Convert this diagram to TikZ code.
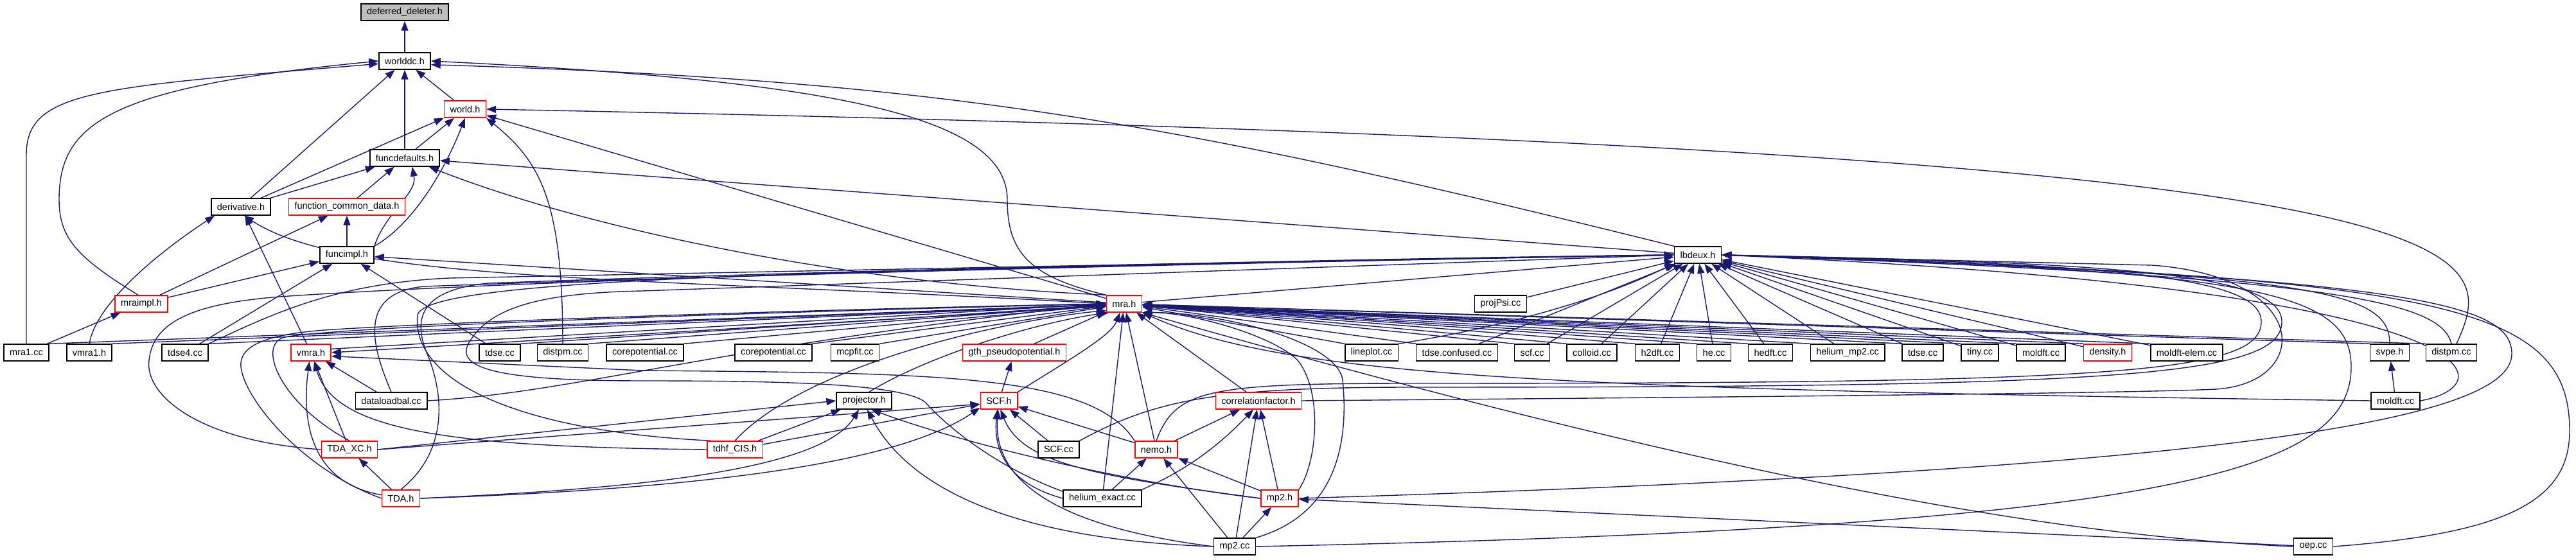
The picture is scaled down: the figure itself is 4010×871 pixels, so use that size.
\documentclass[tikz,border=0pt]{standalone}
\usepackage{fontspec}
\setmainfont{Liberation Sans}
\usetikzlibrary{arrows.meta,backgrounds}
\definecolor{edgeblue}{HTML}{191970}
\definecolor{boxred}{HTML}{FF0000}
\definecolor{rootgray}{HTML}{BFBFBF}
\tikzset{
  hfile/.style={draw=black, line width=1.5pt, fill=white, minimum height=26pt,
    inner xsep=9pt, inner ysep=0pt, font=\fontsize{14.5}{17}\selectfont},
  hred/.style={hfile, draw=boxred},
  hroot/.style={hfile, fill=rootgray},
  inc/.style={draw=edgeblue, line width=1.4pt, -{Triangle[length=15pt,width=11pt]}}
}

\begin{document}
\begin{tikzpicture}[x=1pt,y=1pt]
\useasboundingbox (0,0) rectangle (4010,871);

%% ===================== nodes, rank by rank =====================
\node[hroot] (dd)       at (630,852)  {deferred\_deleter.h};
\node[hfile] (worlddc)  at (630,776)  {worlddc.h};
\node[hred]  (world)    at (724,701)  {world.h};
\node[hfile] (funcdef)  at (630,625)  {funcdefaults.h};
\node[hfile] (deriv)    at (375,549)  {derivative.h};
\node[hred]  (fcd)      at (540,549)  {function\_common\_data.h};
\node[hfile] (funcimpl) at (540,474)  {funcimpl.h};
\node[hfile] (lbdeux)   at (2643,474) {lbdeux.h};
\node[hred]  (mraimpl)  at (220,398)  {mraimpl.h};
\node[hred]  (mra)      at (1750,398) {mra.h};
\node[hfile] (projpsi)  at (2336,398) {projPsi.cc};

% main row
\node[hfile] (mraone)     at (41,322)   {mra1.cc};
\node[hfile] (vmraone)    at (139,322)  {vmra1.h};
\node[hfile] (tdsefour)   at (288,322)  {tdse4.cc};
\node[hred]  (vmra)       at (484,322)  {vmra.h};
\node[hfile] (tdseA)      at (778,322)  {tdse.cc};
\node[hfile] (distpmA)    at (876,322)  {distpm.cc};
\node[hfile] (coreA)      at (1004,322) {corepotential.cc};
\node[hfile] (coreB)      at (1204,322) {corepotential.cc};
\node[hfile] (mcpfit)     at (1331,322) {mcpfit.cc};
\node[hred]  (gth)        at (1579,322) {gth\_pseudopotential.h};
\node[hfile] (lineplot)   at (2135,322) {lineplot.cc};
\node[hfile] (tdseconf)   at (2268,322) {tdse.confused.cc};
\node[hfile] (scfcc)      at (2385,322) {scf.cc};
\node[hfile] (colloid)    at (2478,322) {colloid.cc};
\node[hfile] (htwodft)    at (2580,322) {h2dft.cc};
\node[hfile] (hecc)       at (2668,322) {he.cc};
\node[hfile] (hedft)      at (2756,322) {hedft.cc};
\node[hfile] (hemptwo)    at (2876,322) {helium\_mp2.cc};
\node[hfile] (tdseB)      at (2993,322) {tdse.cc};
\node[hfile] (tiny)       at (3082,322) {tiny.cc};
\node[hfile] (moldftA)    at (3177,322) {moldft.cc};
\node[hred]  (density)    at (3281,322) {density.h};
\node[hfile] (moldftelem) at (3404,322) {moldft-elem.cc};
\node[hfile] (svpe)       at (3720,322) {svpe.h};
\node[hfile] (distpmB)    at (3816,322) {distpm.cc};

% lower ranks
\node[hfile] (dataload)  at (609,247)  {dataloadbal.cc};
\node[hfile] (projector) at (1345,247) {projector.h};
\node[hred]  (scfh)      at (1555,247) {SCF.h};
\node[hred]  (corrfac)   at (1959,247) {correlationfactor.h};
\node[hfile] (moldftB)   at (3729,247) {moldft.cc};
\node[hred]  (tdaxc)     at (544,171)  {TDA\_XC.h};
\node[hred]  (tdhf)      at (1144,171) {tdhf\_CIS.h};
\node[hfile] (scfccB)    at (1648,171) {SCF.cc};
\node[hred]  (nemo)      at (1800,171) {nemo.h};
\node[hred]  (tda)       at (624,95)   {TDA.h};
\node[hfile] (heexact)   at (1716,95)  {helium\_exact.cc};
\node[hred]  (mptwoh)    at (1992,95)  {mp2.h};
\node[hfile] (mptwocc)   at (1922,20)  {mp2.cc};
\node[hfile] (oep)       at (3601,20)  {oep.cc};

\begin{pgfonlayer}{background}
%% ===================== upper part =====================
\draw[inc] (worlddc) -- (dd);
\draw[inc] (world) -- (worlddc);
\draw[inc] (funcdef) -- (worlddc);
\draw[inc] (funcdef) -- (world);
\draw[inc] (deriv) -- (worlddc);
\draw[inc] (deriv) -- (world.south west);
\draw[inc] (deriv) -- (funcdef);
\draw[inc] (fcd) -- (funcdef);
\draw[inc] (funcimpl) -- (fcd);
\draw[inc] (funcimpl.north east) .. controls (600,540) and (650,570) .. (funcdef.-50);
\draw[inc] (funcimpl.north east) .. controls (640,520) and (690,600) .. (world.south);

% far left column
\draw[inc] (mraone.north) -- (41,630) .. controls (41,730) and (150,735) .. (worlddc.-174);
\draw[inc] (mraimpl.110) .. controls (120,470) and (92,500) .. (92,560)
  .. controls (92,680) and (170,735) .. (worlddc.west);
\draw[inc] (mraone) -- (mraimpl);
\draw[inc] (mraimpl) -- (fcd);
\draw[inc] (mraimpl) -- (funcimpl);
\draw[inc] (vmraone.north) .. controls (150,400) and (250,480) .. ([xshift=6pt]deriv.south west);
\draw[inc] (vmra) -- (deriv);
\draw[inc] (tdsefour) -- (funcimpl);
\draw[inc] (tdseA) -- (funcimpl);
\draw[inc] (distpmA.north) .. controls (876,560) and (840,620) .. (world.south east);
\draw[inc] (distpmB.60) .. controls (3900,500) and (3890,640) .. (world.east);

% mra.h and lbdeux.h upwards
\draw[inc] (mra) -- (world);
\draw[inc] (mra.north west) .. controls (1600,440) and (1568,480) .. (1568,560)
  .. controls (1568,690) and (1300,745) .. (worlddc.east);
\draw[inc] (mra.north west) .. controls (1300,430) and (900,520) .. (funcdef.-20);
\draw[inc] (mra) -- (funcimpl);
\draw[inc] (mra.west) .. controls (1000,440) and (540,430) .. (deriv.-70);
\draw[inc] (mra) -- (lbdeux);
\draw[inc] (lbdeux.north west) .. controls (1828,681) and (1472,746) .. (worlddc.-8);
\draw[inc] (lbdeux) -- (funcdef);
\draw[inc] (vmra.10) -- (mra.west);
\draw[inc] (mra.-172) -- (vmra.east);

%% ===================== main row fans =====================
\foreach \n in {mraone,vmraone,tdsefour,tdseA,distpmA,coreA,coreB,mcpfit}
  \draw[inc] (\n.north east) -- (mra);
\foreach \n in {lineplot,tdseconf,scfcc,colloid,htwodft,hecc,hedft,hemptwo,tdseB,tiny,moldftA,density,moldftelem,svpe,distpmB}
  \draw[inc] (\n.north west) -- (mra);
\foreach \n in {projpsi,tdseconf,scfcc,colloid,htwodft,hecc,hedft,hemptwo,tdseB,tiny,moldftA,density,moldftelem}
  \draw[inc] (\n) -- (lbdeux);
\draw[inc] (lineplot.north east) .. controls (2330,360) and (2480,400) .. (lbdeux.south west);

% far right loops into lbdeux.h
\draw[inc] (svpe.north) .. controls (3720,420) and (3600,445) .. (lbdeux.east);
\draw[inc] (distpmB.north) .. controls (3800,400) and (3650,440) .. (lbdeux.east);
\draw[inc] (moldftB.east) .. controls (3900,270) and (3910,420) .. (lbdeux.east);
\draw[inc] (moldftB) -- (svpe);
\draw[inc] (moldftB.west) .. controls (2400,265) and (2000,285) .. (mra.south east);
\draw[inc] (oep.east) .. controls (3900,40) and (4000,90) .. (4000,200)
  .. controls (4000,400) and (3800,440) .. (lbdeux.east);
\draw[inc] (mptwoh.east) .. controls (3500,140) and (3910,220) .. (3910,320)
  .. controls (3910,400) and (3750,440) .. (lbdeux.east);
\draw[inc] (mptwocc.east) .. controls (3400,50) and (3660,140) .. (3660,300)
  .. controls (3660,420) and (3500,450) .. (lbdeux.east);
\draw[inc] (nemo.north) .. controls (1830,265) and (1880,274) .. (2200,274)
  .. controls (3300,274) and (3520,290) .. (3520,370)
  .. controls (3520,440) and (3300,460) .. (lbdeux.east);
\draw[inc] (scfccB.north east) .. controls (1800,250) and (1900,268) .. (2200,268)
  .. controls (3300,268) and (3552,285) .. (3552,370)
  .. controls (3552,445) and (3300,462) .. (lbdeux.east);
\draw[inc] (corrfac.east) .. controls (2600,252) and (3300,258) .. (3450,265)
  .. controls (3600,275) and (3600,440) .. (3350,458) -- (lbdeux.east);
\draw[inc] (oep.west) .. controls (3100,40) and (2500,180) .. (mra.south east);

%% ===================== lower part =====================
\draw[inc] (scfh) -- (gth);
\draw[inc] (gth) -- (mra);
\draw[inc] (scfh.north east) .. controls (1680,320) and (1730,350) .. (mra.-115);
\draw[inc] (projector.60) .. controls (1450,320) and (1620,370) .. (mra.-150);
\draw[inc] (tdhf) -- (projector);
\draw[inc] (tdhf) -- (scfh);
\draw[inc] (tdhf.north) .. controls (1250,300) and (1550,370) .. (mra.-160);
\draw[inc] (tdhf.west) .. controls (700,175) and (520,200) .. (vmra.-70);
\draw[inc] (tdhf.160) .. controls (800,200) and (640,280) .. (650,380)
  .. controls (660,440) and (1300,450) .. (lbdeux.west);
\draw[inc] (scfccB) -- (scfh);
\draw[inc] (nemo) -- (scfh);
\draw[inc] (nemo) -- (corrfac);
\draw[inc] (nemo) -- (mra);
\draw[inc] (nemo.north west) .. controls (1700,290) and (1450,290) .. (1000,294) -- (vmra.-10);
\draw[inc] (corrfac) -- (mra);

\draw[inc] (heexact) -- (mra);
\draw[inc] (heexact) -- (nemo);
\draw[inc] (heexact.north east) .. controls (1850,140) and (1900,180) .. (corrfac.-120);
\draw[inc] (heexact.west) .. controls (1580,115) and (1545,160) .. (scfh.-100);
\draw[inc] (heexact.170) .. controls (1560,140) and (1480,200) .. (1440,245)
  .. controls (1400,275) and (1200,278) .. (1000,278)
  .. controls (760,278) and (700,300) .. (735,345)
  .. controls (770,395) and (850,415) .. (1000,418) -- (lbdeux.west);

\draw[inc] (mptwoh.west) .. controls (1700,130) and (1590,150) .. (scfh.-80);
\draw[inc] (mptwoh.west) .. controls (1750,120) and (1500,180) .. (projector.-50);
\draw[inc] (mptwoh) -- (nemo);
\draw[inc] (mptwoh) -- (corrfac);
\draw[inc] (mptwoh.north east) .. controls (2050,150) and (2060,260) .. (2020,310)
  .. controls (1980,350) and (1850,385) .. (mra.south east);
\draw[inc] (oep) -- (mptwoh);

\draw[inc] (mptwocc) -- (mptwoh);
\draw[inc] (mptwocc) -- (nemo);
\draw[inc] (mptwocc) -- (corrfac);
\draw[inc] (mptwocc.west) .. controls (1650,50) and (1545,120) .. (scfh.-95);
\draw[inc] (mptwocc.west) .. controls (1600,30) and (1420,100) .. (projector.-70);
\draw[inc] (mptwocc.north east) .. controls (2080,70) and (2100,180) .. (2090,280)
  .. controls (2080,340) and (1900,385) .. (mra.south east);

% TDA group
\draw[inc] (tda) -- (tdaxc);
\draw[inc] (tdaxc) -- (vmra);
\draw[inc] (tda.170) .. controls (480,120) and (470,220) .. (vmra.-100);
\draw[inc] (dataload) -- (vmra);
\draw[inc] (tdaxc.east) -- (projector.west);
\draw[inc] (tdaxc.east) -- (scfh.-170);
\draw[inc] (tda.east) .. controls (1000,110) and (1280,140) .. (projector.-120);
\draw[inc] (tda.east) .. controls (1100,110) and (1400,150) .. (scfh.-160);
\draw[inc] (tdaxc.north) .. controls (440,240) and (400,330) .. (440,345)
  .. controls (470,355) and (800,375) .. (mra.west);
\draw[inc] (tda.west) .. controls (470,140) and (380,250) .. (375,300)
  .. controls (372,335) and (420,352) .. (520,358)
  .. controls (800,375) and (1400,392) .. (mra.west);
\draw[inc] (dataload.north) .. controls (575,340) and (560,415) .. (660,425)
  .. controls (1200,445) and (2200,468) .. (lbdeux.west);
\draw[inc] (tda.north) .. controls (700,170) and (690,260) .. (665,320)
  .. controls (640,380) and (660,420) .. (760,430)
  .. controls (1300,450) and (2200,470) .. (lbdeux.west);
\draw[inc] (tdaxc.west) .. controls (300,185) and (225,260) .. (232,310)
  .. controls (238,370) and (300,400) .. (450,410)
  .. controls (900,440) and (2000,465) .. (lbdeux.west);
\draw[inc] (tdsefour.north east) .. controls (420,380) and (520,430) .. (700,438)
  .. controls (1300,450) and (2200,468) .. (lbdeux.west);
\draw[inc] (dataload.east) .. controls (900,260) and (1100,330) .. (mra.west);
\end{pgfonlayer}

\end{tikzpicture}
\end{document}
